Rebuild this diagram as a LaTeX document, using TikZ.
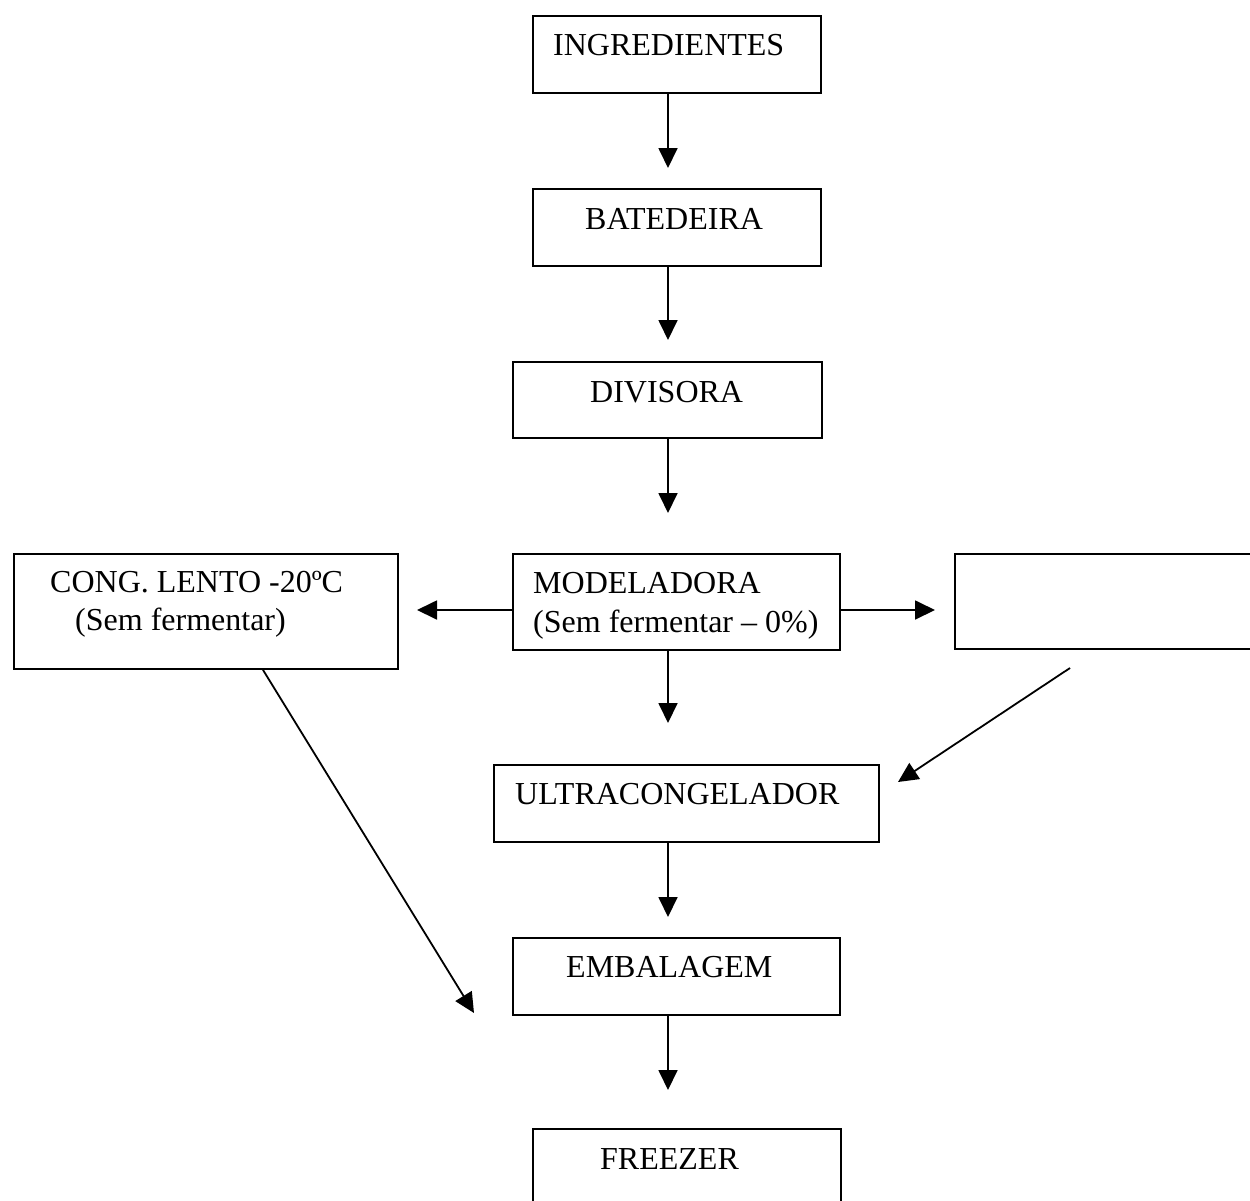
\documentclass[tikz,border=0pt]{standalone}
\usepackage{fontspec}
\setmainfont{Liberation Serif}
\usetikzlibrary{arrows.meta}
\begin{document}
\begin{tikzpicture}[x=1pt,y=-1pt,
  box/.style={draw, line width=1.9pt, inner sep=0pt, anchor=north west},
  lbl/.style={anchor=base west, inner sep=0pt, font=\fontsize{32}{38.5}\selectfont},
  arr/.style={line width=1.8pt, -{Triangle[length=20pt,width=19pt]}}]
\useasboundingbox (0,0) rectangle (1250,1200);
% boxes
\node[box, minimum width=288pt, minimum height=77pt] (ingr) at (532,15) {};
\node[box, minimum width=288pt, minimum height=77pt] (bat) at (532,188) {};
\node[box, minimum width=309pt, minimum height=76pt] (div) at (512,361) {};
\node[box, minimum width=327pt, minimum height=96pt] (model) at (512,553) {};
\node[box, minimum width=384pt, minimum height=115pt] (cong) at (13,553) {};
\node[box, minimum width=320pt, minimum height=95pt] (empty) at (954,553) {};
\node[box, minimum width=385pt, minimum height=77pt] (ultra) at (493,764) {};
\node[box, minimum width=327pt, minimum height=77pt] (emb) at (512,937) {};
\node[box, minimum width=308pt, minimum height=90pt] (freez) at (532,1128) {};
% texts
\node[lbl] (tingr) at (553,55) {INGREDIENTES};
\node[lbl] (tbat) at (585,229) {BATEDEIRA};
\node[lbl] (tdiv) at (590,402) {DIVISORA};
\node[lbl] (tmod1) at (533,593) {MODELADORA};
\node[lbl] (tmod2) at (533,632) {(Sem fermentar – 0\%)};
\node[lbl] (tcong1) at (50,592) {CONG. LENTO -20ºC};
\node[lbl] (tcong2) at (75,630) {(Sem fermentar)};
\node[lbl] (tultra) at (515,804) {ULTRACONGELADOR};
\node[lbl] (temb) at (566,977) {EMBALAGEM};
\node[lbl] (tfreez) at (600,1169) {FREEZER};
% arrow end points
\coordinate (a1) at (668,168);
\coordinate (a2) at (668,340);
\coordinate (a3) at (668,513);
\coordinate (a4) at (668,723);
\coordinate (a5) at (668,917);
\coordinate (a6) at (668,1090);
\coordinate (aL) at (417,610);
\coordinate (aR) at (935,610);
\coordinate (dRs) at (1070,668);
\coordinate (dRe) at (898,782);
\coordinate (dLs) at (263,668);
\coordinate (dLe) at (474,1013);
% connectors
\draw[arr] (ingr.south -| a1) -- (a1);
\draw[arr] (bat.south -| a2) -- (a2);
\draw[arr] (div.south -| a3) -- (a3);
\draw[arr] (model.south -| a4) -- (a4);
\draw[arr] (ultra.south -| a5) -- (a5);
\draw[arr] (emb.south -| a6) -- (a6);
\draw[arr] (model.west |- aL) -- (aL);
\draw[arr] (model.east |- aR) -- (aR);
\draw[arr] (dRs) -- (dRe);
\draw[arr] (cong.south -| dLs) -- (dLe);
\end{tikzpicture}
\end{document}
